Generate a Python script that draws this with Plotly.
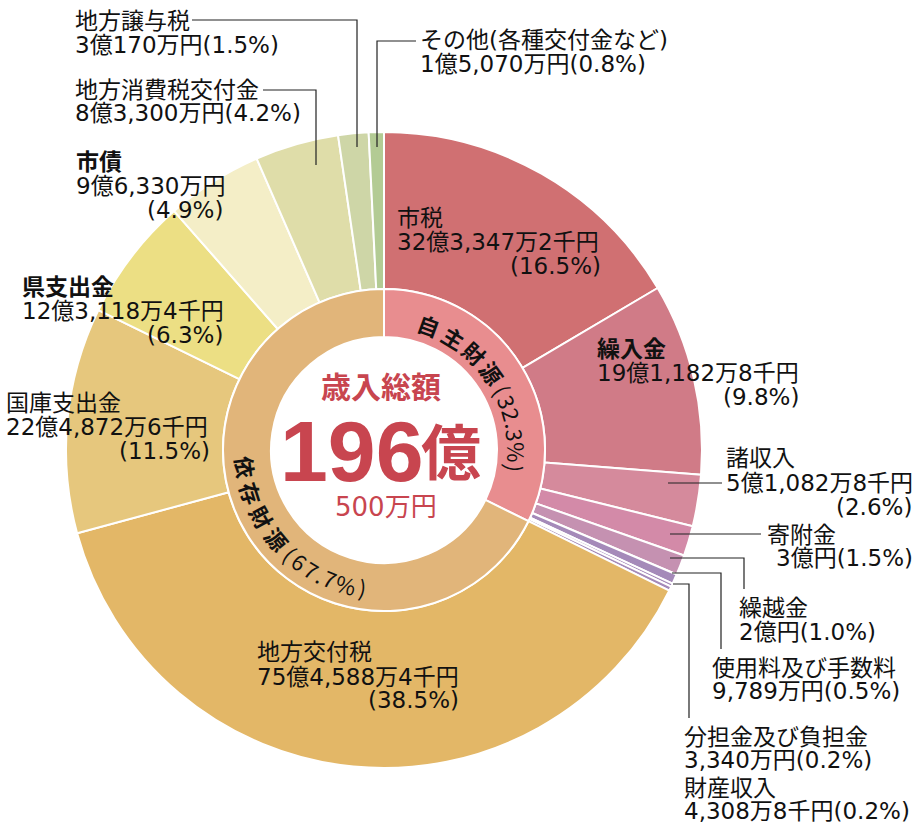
import math
import plotly.graph_objects as go

# ---------------- data ----------------
categories = ["市税", "繰入金", "諸収入", "寄附金", "繰越金", "使用料及び手数料",
              "分担金及び負担金", "財産収入",
              "地方交付税", "国庫支出金", "県支出金", "市債", "地方消費税交付金",
              "地方譲与税", "その他(各種交付金など)"]
# amounts in 万円
amounts_man = [323347.2, 191182.8, 51082.8, 30000, 20000, 9789, 3340, 4308.8,
               754588.4, 224872.6, 123118.4, 96330, 83300, 30170, 15070]
groups = ["自主財源"] * 8 + ["依存財源"] * 7
group_names = ["自主財源", "依存財源"]

# ---------------- styles ----------------
cat_colors = ["#D07072", "#D07B87", "#D58A9C", "#D38AA8", "#C591B1", "#A58AB9",
              "#A58AB9", "#A58AB9",
              "#E3B767", "#E6C77D", "#ECDF84", "#F4EEC7", "#DFDDA9", "#CED6A7", "#B3CB94"]
group_colors = ["#E88D8F", "#E1B57A"]
RED = "#C8454F"
FONT = "DejaVu Sans, Noto Sans CJK JP"
CJK = "Noto Sans CJK JP"

W, H = 912, 825
CX, CY = 384, 450
R_OUT, R_MID, R_IN = 318, 161, 113


def px(x):
    return x / W


def py(y):
    return 1 - y / H


def fmt_amount(v):
    t = int(round(v * 10))  # 千円 units
    sen = t % 10
    man = (t // 10) % 10000
    oku = t // 100000
    s = ""
    if oku:
        s += f"{oku}億"
    if man:
        s += f"{man:,}万"
    if sen:
        s += f"{sen}千"
    return s + "円"


total = sum(amounts_man)
group_vals = [sum(a for a, g in zip(amounts_man, groups) if g == gn) for gn in group_names]
pcts = [f"({a / total * 100:.1f}%)" for a in amounts_man]
gpcts = [f"({a / total * 100:.1f}%)" for a in group_vals]

fig = go.Figure()
fig.add_trace(go.Pie(
    values=amounts_man, labels=categories, sort=False, direction="clockwise",
    rotation=0, hole=R_MID / R_OUT, textinfo="none", hoverinfo="skip",
    marker=dict(colors=cat_colors, line=dict(color="white", width=2)),
    domain=dict(x=[px(CX - R_OUT), px(CX + R_OUT)], y=[py(CY + R_OUT), py(CY - R_OUT)]),
    showlegend=False))
fig.add_trace(go.Pie(
    values=group_vals, labels=group_names, sort=False, direction="clockwise",
    rotation=0, hole=R_IN / R_MID, textinfo="none", hoverinfo="skip",
    marker=dict(colors=group_colors, line=dict(color="white", width=2)),
    domain=dict(x=[px(CX - R_MID), px(CX + R_MID)], y=[py(CY + R_MID), py(CY - R_MID)]),
    showlegend=False))

annotations = []
shapes = []


def add_text(text, x, y, anchor="left", size=23, bold=False, color="#111111", family=FONT):
    annotations.append(dict(
        text=f"<b>{text}</b>" if bold else text, x=px(x), y=py(y), xref="paper", yref="paper",
        xanchor=anchor, yanchor="middle", showarrow=False, borderpad=0, borderwidth=0,
        font=dict(size=size, color=color, family=family)))


# label layout: (kind, x, y, anchor)
label_layout = {
    "市税": [("name", 397, 218, "left"), ("amt", 397, 242, "left"), ("pct", 601, 266, "right")],
    "繰入金": [("name", 597, 349, "left"), ("amt", 597, 373, "left"), ("pct", 799, 397, "right")],
    "諸収入": [("name", 726, 458, "left"), ("amt", 726, 483, "left"), ("pct", 912, 507, "right")],
    "寄附金": [("name", 767, 535, "left"), ("amtpct", 776, 558, "left")],
    "繰越金": [("name", 739, 608, "left"), ("amtpct", 739, 632, "left")],
    "使用料及び手数料": [("name", 712, 668, "left"), ("amtpct", 712, 691, "left")],
    "分担金及び負担金": [("name", 684, 737, "left"), ("amtpct", 684, 760, "left")],
    "財産収入": [("name", 684, 788, "left"), ("amtpct", 684, 811, "left")],
    "地方交付税": [("name", 257, 652, "left"), ("amt", 257, 677, "left"), ("pct", 459, 700, "right")],
    "国庫支出金": [("name", 6, 403, "left"), ("amt", 6, 427, "left"), ("pct", 210, 451, "right")],
    "県支出金": [("name", 22, 287, "left"), ("amt", 22, 311, "left"), ("pct", 223, 335, "right")],
    "市債": [("name", 76, 162, "left"), ("amt", 76, 186, "left"), ("pct", 223, 210, "right")],
    "地方消費税交付金": [("name", 75, 90, "left"), ("amtpct", 75, 113, "left")],
    "地方譲与税": [("name", 75, 21, "left"), ("amtpct", 75, 45, "left")],
    "その他(各種交付金など)": [("name", 420, 40, "left"), ("amtpct", 420, 64, "left")],
}
bold_names = {"繰入金", "県支出金", "市債"}

for name, amt, pct in zip(categories, amounts_man, pcts):
    a = fmt_amount(amt)
    for kind, x, y, anchor in label_layout[name]:
        txt = {"name": name, "amt": a, "pct": pct, "amtpct": a + pct}[kind]
        add_text(txt, x, y, anchor, bold=(kind == "name" and name in bold_names))

# leader lines (pixel paths)
leaders = [
    [(668, 483), (722, 483)],
    [(670, 534), (761, 534)],
    [(670, 558), (744, 558), (744, 589)],
    [(672, 573), (721, 573), (721, 649)],
    [(673, 584), (689, 584), (689, 718)],
    [(263, 90), (316, 90), (316, 165)],
    [(192, 20), (357, 20), (357, 147)],
    [(416, 41), (377, 41), (377, 147)],
]
for pts in leaders:
    path = "M " + " L ".join(f"{px(x):.5f},{py(y):.5f}" for x, y in pts)
    shapes.append(dict(type="path", path=path, xref="paper", yref="paper",
                       line=dict(color="#222222", width=1.2)))


# curved inner-ring text
def char_w(c):
    if c in "()":
        return 10
    if c == ".":
        return 6
    if c == "%":
        return 18
    if c.isdigit():
        return 12
    return 23


def arc_text(label, pct, a_start, a_end, r, top=True):
    chars = [(c, True) for c in label] + [(c, False) for c in pct]
    ws = [char_w(c) for c, _ in chars]
    cum = []
    s = 0
    for w in ws:
        cum.append(s + w / 2)
        s += w
    c0, c1 = cum[0], cum[-1]
    for (c, b), cc in zip(chars, cum):
        ang = a_start + (a_end - a_start) * (cc - c0) / (c1 - c0)
        t = math.radians(ang)
        x = CX + r * math.sin(t)
        y = CY - r * math.cos(t)
        rot = ang if top else ang - 180
        annotations.append(dict(
            text=f"<b>{c}</b>" if b else c, x=px(x), y=py(y), xref="paper", yref="paper",
            xanchor="center", yanchor="middle", showarrow=False, textangle=rot,
            font=dict(size=22, color="#111111", family=CJK)))


arc_text(group_names[0], gpcts[0], 20, 98, 133, top=True)
arc_text(group_names[1], gpcts[1], 263, 189, 139, top=False)

# centre text
tot_oku = int(total // 10000)
tot_man = int(round(total - tot_oku * 10000))
add_text("<b>歳入総額</b>", 381, 385, "center", size=30, color=RED, family=CJK)
add_text(f"<b>{tot_oku}</b>", 424, 451, "right", size=86, color=RED,
         family="Liberation Sans, Arial")
add_text("<b>億</b>", 421, 448, "left", size=60, color=RED, family=CJK)
add_text(f"{tot_man}万円", 386, 507, "center", size=26, color=RED, family=FONT)

fig.update_layout(
    width=W, height=H, margin=dict(l=0, r=0, t=0, b=0),
    paper_bgcolor="white", plot_bgcolor="white",
    annotations=annotations, shapes=shapes,
)
fig.write_html("out.html", config={"displayModeBar": False},
               post_script="document.body.style.margin='0px';")
